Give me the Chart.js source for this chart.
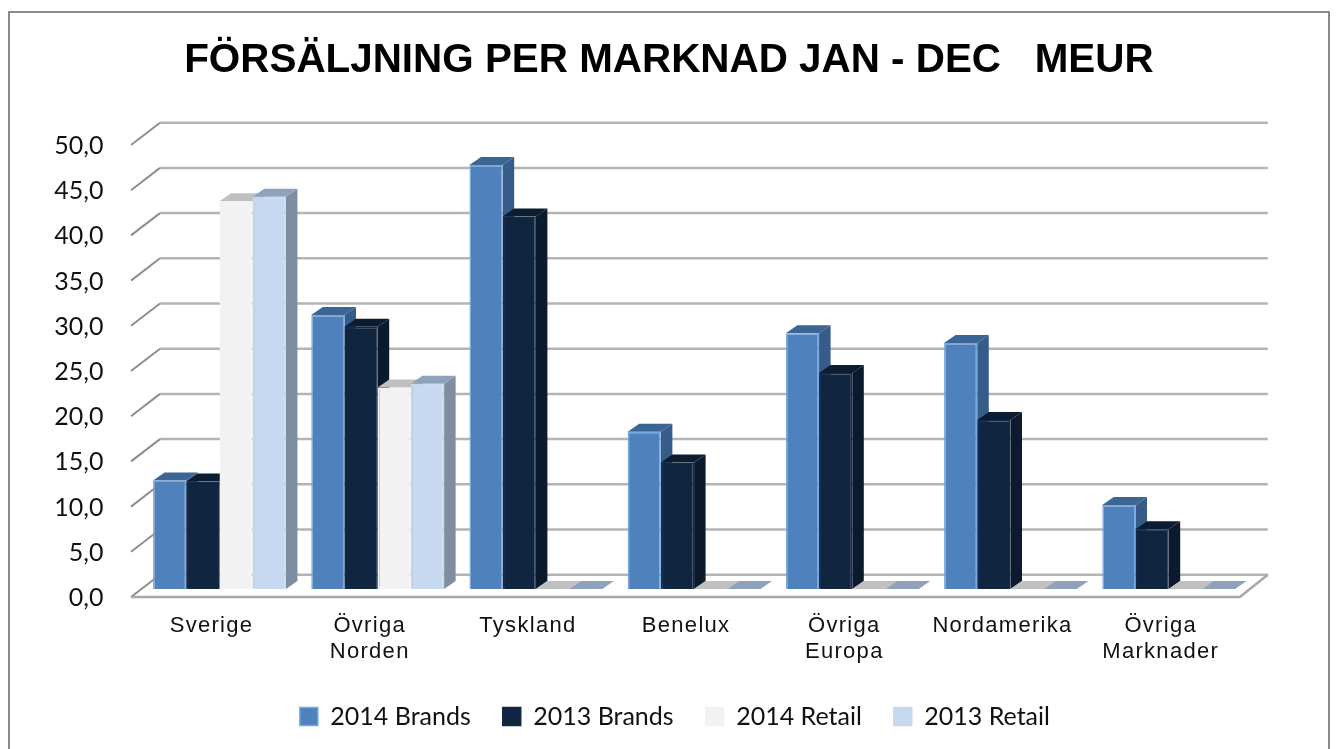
<!DOCTYPE html>
<html>
<head>
<meta charset="utf-8">
<title>Försäljning per marknad</title>
<script src="https://cdn.jsdelivr.net/npm/chart.js"></script>
<style>
  html, body { margin: 0; padding: 0; background: #fff; overflow: hidden; }
  #frame { position: absolute; left: 8px; top: 11px; width: 1322px; height: 738px; box-sizing: border-box;
           border: 2px solid #8a8a8a; border-bottom: 0; }
  canvas { position: absolute; left: 0; top: 0; filter: blur(0.6px); }
</style>
</head>
<body>
<div id="frame"></div>
<canvas id="chart" width="1338" height="749"></canvas>
<script>
const categories = ['Sverige', ['Övriga', 'Norden'], 'Tyskland', 'Benelux', ['Övriga', 'Europa'], 'Nordamerika', ['Övriga', 'Marknader']];
const brands2014 = [12.0, 30.3, 46.9, 17.4, 28.3, 27.2, 9.3];
const brands2013 = [11.9, 29.0, 41.2, 14.0, 23.9, 18.7, 6.6];
const retail2014 = [42.9, 22.3, 0, 0, 0, 0, 0];
const retail2013 = [43.4, 22.7, 0, 0, 0, 0, 0];

const DEPTH_X = 11.5;
const DEPTH_Y = 8;

function shiftBox(box, dx, dy) {
  box.left += dx;
  box.right += dx;
  box.top += dy;
  box.bottom += dy;
}

// the 3D look: walls and grid behind, then side and top face of each bar
const depthPlugin = {
  id: 'depth',
  afterLayout(chart) {
    // title and legend are centred on the page, not on the plot
    shiftBox(chart.titleBlock, 40, 3);
    shiftBox(chart.legend, 46, -10);
  },
  beforeDatasetsDraw(chart) {
    const ctx = chart.ctx;
    const y = chart.scales.y;
    const area = chart.chartArea;
    const backL = area.left + 19.6, backR = area.right + 20;
    const frontL = area.left - 9.4, frontR = area.right - 8;

    ctx.save();
    y.ticks.forEach(t => {
      const py = y.getPixelForValue(t.value);
      ctx.strokeStyle = '#b4b4b4';
      ctx.lineWidth = 2.5;
      ctx.beginPath();
      ctx.moveTo(backL, py - 14.3);
      ctx.lineTo(backR, py - 14.3);
      ctx.stroke();
      ctx.strokeStyle = '#8e8e8e';
      ctx.lineWidth = 2;
      ctx.beginPath();
      ctx.moveTo(frontL, py + 8);
      ctx.lineTo(backL, py - 14.3);
      ctx.stroke();
    });
    const floor = y.getPixelForValue(0);
    ctx.strokeStyle = '#a8a8a8';
    ctx.lineWidth = 2.5;
    ctx.beginPath();
    ctx.moveTo(frontL, floor + 8);
    ctx.lineTo(frontR, floor + 8);
    ctx.lineTo(backR, floor - 14.3);
    ctx.stroke();

    chart.data.datasets.forEach((ds, i) => {
      chart.getDatasetMeta(i).data.forEach(bar => {
        const p = bar.getProps(['x', 'y', 'base', 'width']);
        const l = p.x - p.width / 2, r = p.x + p.width / 2;
        ctx.fillStyle = ds.sideColor;
        ctx.beginPath();
        ctx.moveTo(r, p.y);
        ctx.lineTo(r + DEPTH_X, p.y - DEPTH_Y);
        ctx.lineTo(r + DEPTH_X, p.base - DEPTH_Y);
        ctx.lineTo(r, p.base);
        ctx.closePath();
        ctx.fill();
        ctx.fillStyle = ds.topColor;
        ctx.beginPath();
        ctx.moveTo(l, p.y);
        ctx.lineTo(l + DEPTH_X, p.y - DEPTH_Y);
        ctx.lineTo(r + DEPTH_X, p.y - DEPTH_Y);
        ctx.lineTo(r, p.y);
        ctx.closePath();
        ctx.fill();
      });
    });
    ctx.restore();
  }
};

const borderIfValue = c => (c.raw > 0 ? 1.5 : 0);

new Chart(document.getElementById('chart'), {
  type: 'bar',
  data: {
    labels: categories,
    datasets: [
      { label: '2014 Brands', data: brands2014, backgroundColor: '#4f81bd', borderColor: '#7ba7de', borderWidth: borderIfValue, sideColor: '#365c8a', topColor: '#3a6595' },
      { label: '2013 Brands', data: brands2013, backgroundColor: '#10253f', borderColor: '#14294a', borderWidth: borderIfValue, sideColor: '#0b1a2d', topColor: '#0c1c31' },
      { label: '2014 Retail', data: retail2014, backgroundColor: '#f2f2f2', borderColor: '#f2f2f2', borderWidth: borderIfValue, sideColor: '#adadad', topColor: '#c0c0c0' },
      { label: '2013 Retail', data: retail2013, backgroundColor: '#c6d9f1', borderColor: '#c6d9f1', borderWidth: borderIfValue, sideColor: '#7f8da1', topColor: '#8fa2bc' }
    ]
  },
  options: {
    responsive: false,
    animation: false,
    layout: { padding: { left: 10, right: 90.2, top: 0, bottom: 0 } },
    datasets: { bar: { barPercentage: 1, categoryPercentage: 0.84, borderSkipped: 'bottom' } },
    plugins: {
      tooltip: { enabled: false },
      title: {
        display: true,
        text: 'FÖRSÄLJNING PER MARKNAD JAN - DEC   MEUR',
        color: '#000',
        font: { family: '"Liberation Sans"', size: 40.4, weight: 'bold', lineHeight: 1.2 },
        padding: { top: 34, bottom: 54.5 }
      },
      legend: {
        position: 'bottom',
        labels: {
          color: '#111',
          font: { family: 'Lato', size: 25 },
          boxWidth: 18,
          boxHeight: 18,
          padding: 32
        }
      }
    },
    scales: {
      x: {
        grid: { display: false, drawTicks: false },
        border: { display: false },
        ticks: { color: '#111', font: { family: '"Liberation Sans"', size: 22, lineHeight: 1.18 }, padding: 24, labelOffset: -8, maxRotation: 0, autoSkip: false },
        afterFit(scale) { scale.height = 93; },
        afterUpdate(scale) {
          const draw = scale.drawLabels;
          scale.drawLabels = function (a) {
            this.ctx.letterSpacing = '1.3px';
            draw.call(this, a);
            this.ctx.letterSpacing = '0px';
          };
        }
      },
      y: {
        min: 0,
        max: 50,
        grid: { display: false, drawTicks: false },
        border: { display: false },
        ticks: {
          stepSize: 5,
          color: '#111',
          font: { family: 'Lato', size: 25 },
          padding: 37,
          labelOffset: 9,
          callback: v => v.toFixed(1).replace('.', ',')
        },
        afterFit(scale) { scale.width = 130.4; }
      }
    }
  },
  plugins: [depthPlugin]
});
</script>
</body>
</html>
